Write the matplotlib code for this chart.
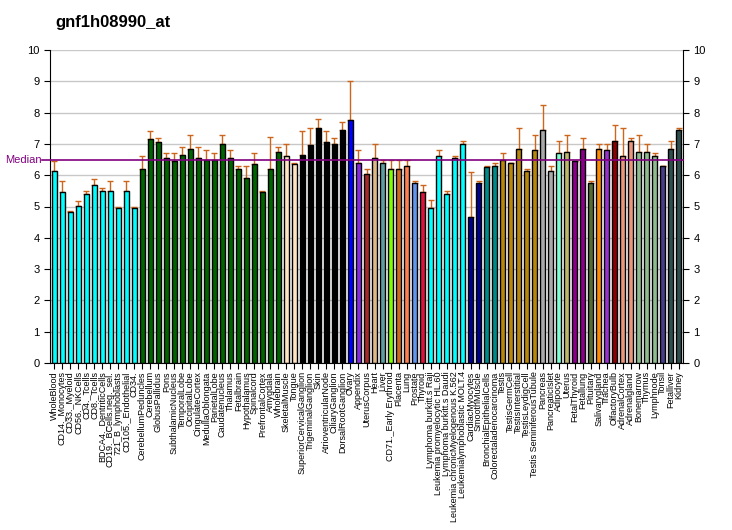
import matplotlib
matplotlib.use("Agg")
import matplotlib.pyplot as plt

# Tissue names, mean expression and upper error-bar end
tissues = [
    "WholeBlood", "CD14._Monocytes", "CD33._Myeloid", "CD56._NKCells", "CD4._Tcells",
    "CD8._Tcells", "BDCA4._DentriticCells", "CD19._BCells.neg._sel.", "721_B_lymphoblasts",
    "CD105._Endothelial", "CD34.", "CerebellumPeduncles", "Cerebellum", "GlobusPallidus",
    "Pons", "SubthalamicNucleus", "TemporalLobe", "OccipitalLobe", "CingulateCortex",
    "MedullaOblongata", "ParietalLobe", "Caudatenucleus", "Thalamus", "Fetalbrain",
    "Hypothalamus", "Spinalcord", "PrefrontalCortex", "Amygdala", "Wholebrain",
    "SkeletalMuscle", "Tongue", "SuperiorCervicalGanglion", "TrigeminalGanglion", "Skin",
    "AtrioventricularNode", "CiliaryGanglion", "DorsalRootGanglion", "Ovary", "Appendix",
    "UterusCorpus", "Heart", "Liver", "CD71._Early Erythroid", "Placenta", "Lung",
    "Prostate", "Thyroid", "Lymphoma burkitt.s Raji", "Leukemia promyelocytic HL.60",
    "Lymphoma burkitt.s Daudi", "Leukemia chronicMyelogenous K.562",
    "Leukemialymphoblastic MOLT.4", "CardiacMyocytes", "SmoothMuscle",
    "BronchialEpithelialCells", "Colorectaladenocarcinoma", "Testis", "TestisGermCell",
    "TestisInterstitial", "TestisLeydigCell", "Testis SeminiferousTubule", "Pancreas",
    "PancreaticIslet", "Adipocyte", "Uterus", "FetalThyroid", "Fetallung", "Pituitary",
    "Salivarygland", "Trachea", "OlfactoryBulb", "AdrenalCortex", "Adrenalgland",
    "Bonemarrow", "Thymus", "Lymphnode", "Tonsil", "Fetalliver", "Kidney",
]

values = [
    6.13, 5.45, 4.84, 5.03, 5.39, 5.68, 5.48, 5.48, 4.94, 5.48, 4.94,
    6.19, 7.16, 7.06, 6.55, 6.46, 6.65, 6.84, 6.55, 6.48, 6.48, 7.00, 6.55, 6.19,
    5.90, 6.35, 5.45, 6.19, 6.74,
    6.61, 6.35, 6.64, 6.96, 7.50, 7.05, 6.99, 7.44, 7.76, 6.38, 6.03, 6.54, 6.38,
    6.19, 6.19, 6.29, 5.74, 5.46, 4.95, 6.61, 5.39, 6.54, 6.99, 4.66, 5.74, 6.26,
    6.29, 6.48, 6.39, 6.84, 6.13, 6.81, 7.45, 6.13, 6.71, 6.74, 6.45, 6.84, 5.74,
    6.84, 6.81, 7.10, 6.61, 7.10, 6.74, 6.74, 6.61, 6.29, 6.84, 7.45,
]

err_top = [
    6.46, 5.81, 4.87, 5.19, 5.48, 5.89, 5.58, 5.81, 4.97, 5.81, 4.97,
    6.61, 7.42, 7.19, 6.71, 6.71, 6.90, 7.29, 6.90, 6.81, 6.71, 7.29, 6.81, 6.29,
    6.29, 6.71, 5.48, 7.23, 6.90,
    6.99, 6.38, 7.40, 7.50, 7.79, 7.40, 7.18, 7.69, 9.00, 6.80, 6.19, 6.99, 6.48,
    6.48, 6.48, 6.48, 5.81, 5.68, 5.20, 6.80, 5.49, 6.61, 7.09, 6.10, 5.81, 6.29,
    6.39, 6.71, 6.39, 7.52, 6.19, 7.29, 8.23, 6.29, 7.10, 7.29, 6.45, 7.19, 5.81,
    7.00, 7.00, 7.61, 7.52, 7.19, 7.29, 7.00, 6.71, 6.29, 7.10, 7.52,
]

median_value = 6.48

# one colour per tissue group, repeated for each bar in the group
color_groups = [
    ("#00FFFF", 11), ("#006400", 18), ("#FFE4C4", 2), ("#000000", 6), ("#0000FF", 1),
    ("#8A2BE2", 1), ("#A52A2A", 1), ("#DEB887", 1), ("#5F9EA0", 1), ("#7FFF00", 1),
    ("#D2691E", 1), ("#FF7F50", 1), ("#6495ED", 1), ("#DC143C", 1), ("#00FFFF", 5),
    ("#00008B", 2), ("#008B8B", 2), ("#B8860B", 5), ("#A9A9A9", 2), ("#7FFFD4", 1),
    ("#BDB76B", 1), ("#8B008B", 2), ("#556B2F", 1), ("#FF8C00", 1), ("#9932CC", 1),
    ("#8B0000", 1), ("#E9967A", 2), ("#8FBC8F", 3), ("#483D8B", 1), ("#2F4F4F", 2),
]
bar_colors = [c for c, n in color_groups for _ in range(n)]

plt.rcParams["font.family"] = ["Liberation Sans", "DejaVu Sans"]

fig = plt.figure(figsize=(7.32, 5.30), dpi=100)
ax = fig.add_axes([50 / 732, 1 - 363 / 530, 633 / 732, 313 / 530])

x = list(range(len(tissues)))
lower = [0] * len(values)
upper = [t - v for t, v in zip(err_top, values)]

ax.set_axisbelow(True)
ax.grid(axis="y", color="#C8C8C8", linewidth=1)
ax.bar(x, values, width=0.7, color=bar_colors, edgecolor="black", linewidth=1, zorder=2)
ax.errorbar(x, values, yerr=[lower, upper], fmt="none", ecolor="#CD661D",
            elinewidth=1, capsize=2.5, capthick=1, zorder=1)

# median line runs a little past the left axis, up to its label
ax.plot([-0.012, 1], [median_value, median_value], color="#800080", linewidth=1.2,
        transform=ax.get_yaxis_transform(), clip_on=False, zorder=3)
ax.text(-0.013, median_value, "Median", color="#800080", fontsize=8,
        ha="right", va="center", transform=ax.get_yaxis_transform())

ax.set_xlim(-0.55, len(tissues) - 0.45)
ax.set_ylim(0, 10)
ax.set_yticks(range(11))
ax.set_xticks(x)
ax.set_xticklabels(tissues, rotation=90, fontsize=6.5)
ax.tick_params(axis="y", labelsize=8, length=4, right=True, labelright=True)
ax.tick_params(axis="x", length=4, pad=2)
ax.spines["top"].set_visible(False)

fig.text(55 / 732, 1 - 22 / 530, "gnf1h08990_at", fontsize=12, fontweight="bold",
         ha="left", va="center")

fig.savefig("out.png", dpi=100)
